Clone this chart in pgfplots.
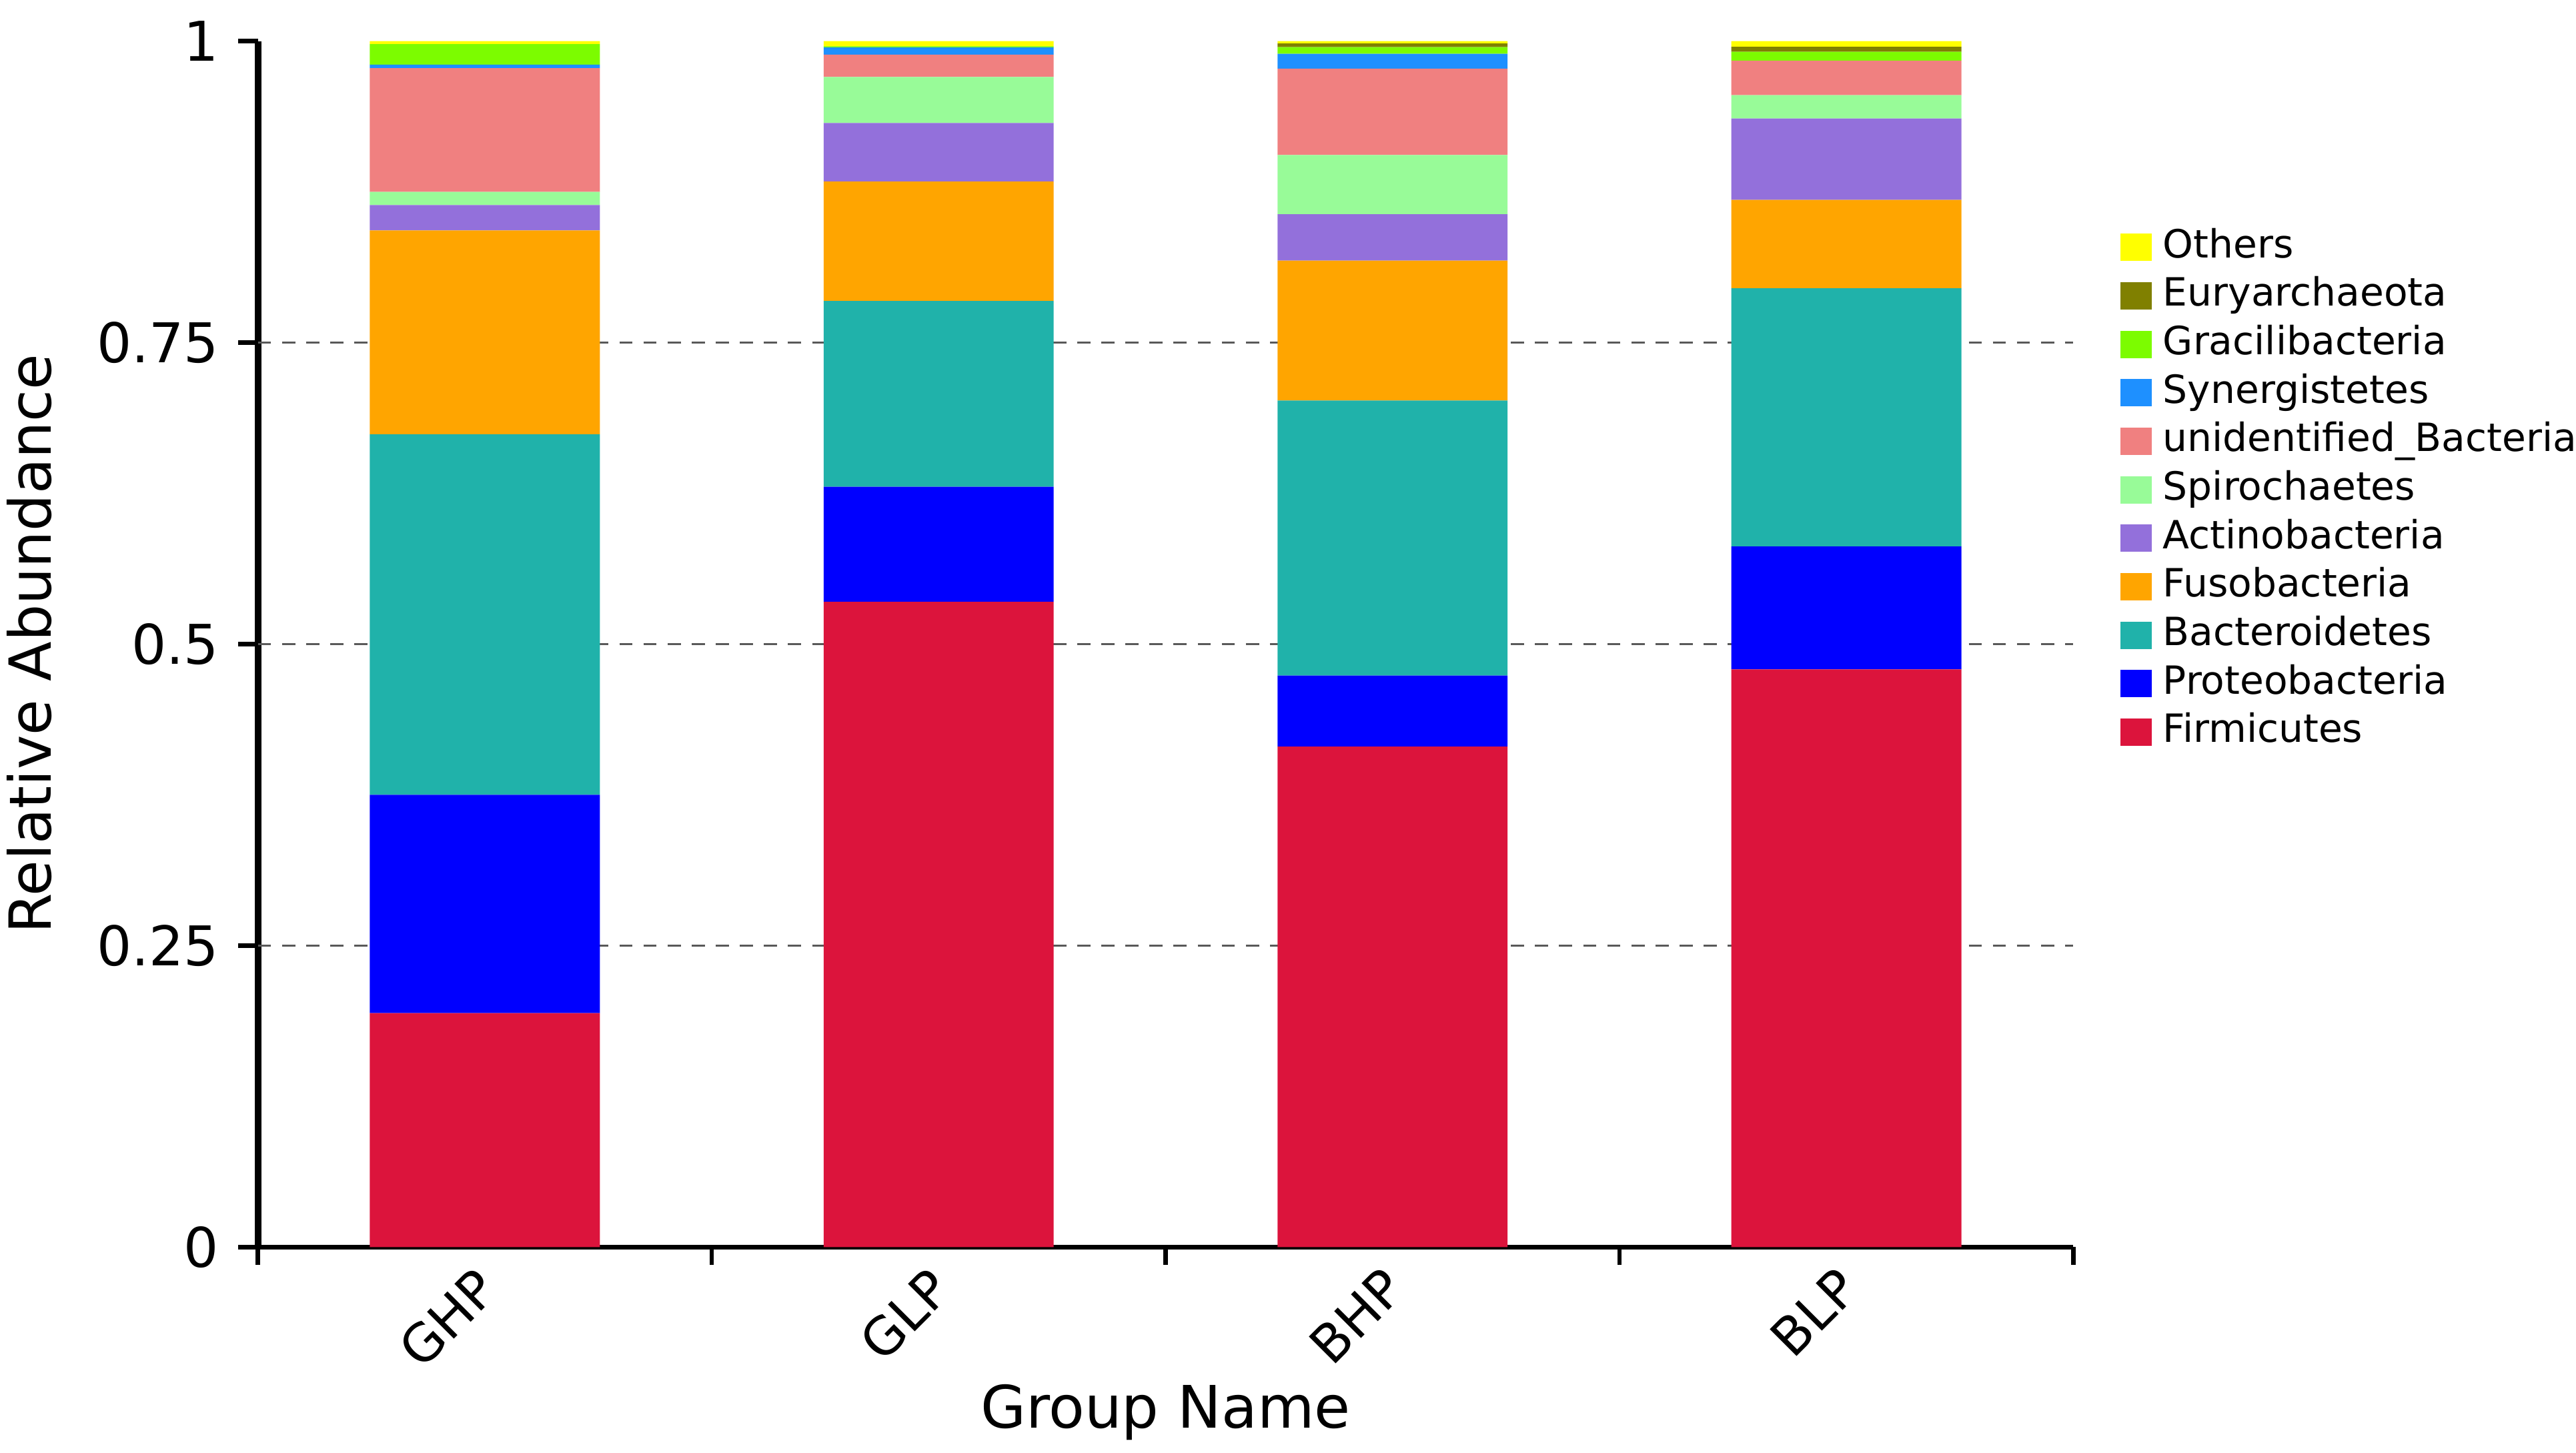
\documentclass[border=0pt]{standalone}
\usepackage{pgfplots}
\usepackage{pgfplotstable}
\pgfplotsset{compat=1.18}
\usepackage{fontspec}
\setmainfont{DejaVu Sans}
\definecolor{cOthe}{HTML}{FFFF00}
\definecolor{cEury}{HTML}{808000}
\definecolor{cGrac}{HTML}{7CFC00}
\definecolor{cSyne}{HTML}{1E90FF}
\definecolor{cUnid}{HTML}{F08080}
\definecolor{cSpir}{HTML}{98FB98}
\definecolor{cActi}{HTML}{9370DB}
\definecolor{cFuso}{HTML}{FFA500}
\definecolor{cBact}{HTML}{20B2AA}
\definecolor{cProt}{HTML}{0000FF}
\definecolor{cFirm}{HTML}{DC143C}
\pgfplotstableread{
x Firm Prot Bact Fuso Acti Spir Unid Syne Grac Eury Othe
0 0.194 0.181 0.299 0.169 0.021 0.011 0.1025 0.003 0.017 0.000 0.0025
1 0.535 0.0955 0.154 0.099 0.0486 0.0381 0.0185 0.006 0.001 0.000 0.0043
2 0.415 0.059 0.228 0.116 0.0385 0.049 0.0717 0.0123 0.0055 0.003 0.002
3 0.479 0.102 0.214 0.0733 0.0675 0.0194 0.0286 0.0 0.0073 0.0041 0.0048
}\data
\begin{document}
\begin{tikzpicture}
\useasboundingbox (-47.1pt,-37.5pt) rectangle (423.3pt,227.7pt);
\begin{axis}[
  scale only axis,
  width=331.5pt, height=220.2pt,
  ybar stacked, bar width=42pt,
  xmin=-0.5, xmax=3.5, ymin=0, ymax=1,
  axis x line*=bottom, axis y line*=left,
  x axis line style={line width=0.8pt},
  y axis line style={line width=1.2pt},
  xtick={0,1,2,3}, xticklabels={GHP,GLP,BHP,BLP},
  minor xtick={-0.5,0.5,1.5,2.5,3.5},
  major x tick style={draw=none},
  minor x tick style={black, line width=0.8pt},
  minor tick length=3.2pt,
  ytick={0,0.25,0.5,0.75,1}, yticklabels={0,0.25,0.5,0.75,1},
  y tick style={black, line width=0.8pt},
  major tick length=3.6pt,
  tick align=outside,
  extra y ticks={0.25,0.5,0.75}, extra y tick labels={},
  extra y tick style={grid=major, major tick length=0pt},
  grid style={gray!70!black, line width=0.4pt, dash pattern=on 2.4pt off 2pt},
  xticklabel style={font=\fontsize{9.5}{11}\selectfont, rotate=45, anchor=north east, yshift=5.3pt, xshift=2.2pt},
  yticklabel style={font=\fontsize{10}{12}\selectfont},
  ylabel={Relative Abundance},
  ylabel style={font=\fontsize{10.6}{13}\selectfont, at={(axis description cs:-0.126,0.5)}, anchor=center},
  xlabel={Group Name},
  xlabel style={font=\fontsize{10.7}{13}\selectfont, at={(axis description cs:0.5,-0.137)}, anchor=center},
  reverse legend,
  legend cell align=left,
  legend image code/.code={\fill[#1] (0pt,-2.5pt) rectangle (5.8pt,2.5pt);},
  legend style={draw=none, fill=none, font=\fontsize{7.1}{8}\selectfont,
    at={(axis description cs:1.0253,0.845)}, anchor=north west,
    inner sep=0pt, row sep=2.15pt,
    nodes={inner sep=0pt, text height=5.2pt, text depth=1.5pt},
    /tikz/every odd column/.append style={column sep=2pt}},
]
\addplot[fill=cFirm, draw=none] table[x=x, y=Firm] {\data};
\addplot[fill=cProt, draw=none] table[x=x, y=Prot] {\data};
\addplot[fill=cBact, draw=none] table[x=x, y=Bact] {\data};
\addplot[fill=cFuso, draw=none] table[x=x, y=Fuso] {\data};
\addplot[fill=cActi, draw=none] table[x=x, y=Acti] {\data};
\addplot[fill=cSpir, draw=none] table[x=x, y=Spir] {\data};
\addplot[fill=cUnid, draw=none] table[x=x, y=Unid] {\data};
\addplot[fill=cSyne, draw=none] table[x=x, y=Syne] {\data};
\addplot[fill=cGrac, draw=none] table[x=x, y=Grac] {\data};
\addplot[fill=cEury, draw=none] table[x=x, y=Eury] {\data};
\addplot[fill=cOthe, draw=none] table[x=x, y=Othe] {\data};
\legend{Firmicutes,Proteobacteria,Bacteroidetes,Fusobacteria,Actinobacteria,Spirochaetes,unidentified\_Bacteria,Synergistetes,Gracilibacteria,Euryarchaeota,Others}
\end{axis}
\end{tikzpicture}
\end{document}
